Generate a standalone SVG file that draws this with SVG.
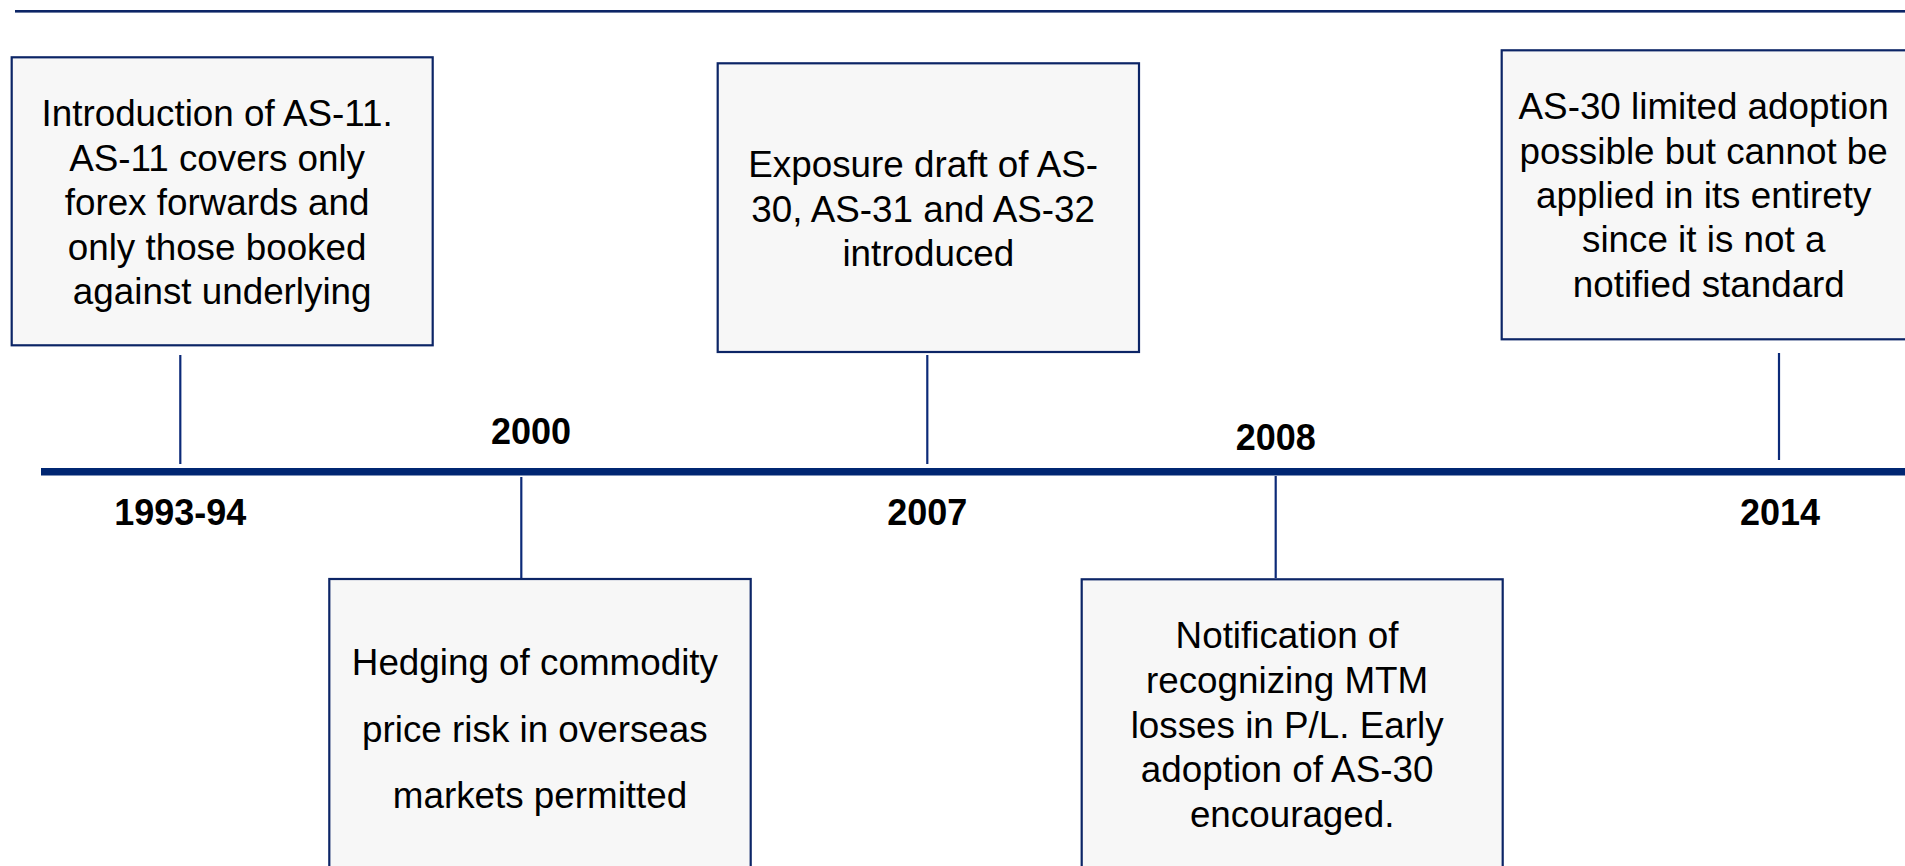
<svg xmlns="http://www.w3.org/2000/svg" width="1905" height="866" viewBox="0 0 1905 866">
  <style>
    .box { fill: #f7f7f7; stroke: #0c2566; stroke-width: 2.2; }
    .conn { stroke: #0c2a78; stroke-width: 2.2; fill: none; }
    .txt { font-family: "Liberation Sans", Arial, sans-serif; font-size: 36.8px; fill: #000; text-anchor: middle; }
    .year { font-family: "Liberation Sans", Arial, sans-serif; font-size: 36px; font-weight: bold; fill: #000; text-anchor: middle; }
  </style>
  <rect width="1905" height="866" fill="#ffffff"/>
  <g id="header-rule">
    <rect x="15" y="10" width="1890" height="2.6" fill="#0c2566"/>
  </g>
  <g id="timeline">
    <rect x="41" y="468" width="1864" height="7.5" fill="#002672"/>
  </g>
  <g id="connectors">
    <line class="conn" x1="180.3" y1="355" x2="180.3" y2="464"/>
    <line class="conn" x1="521.3" y1="477" x2="521.3" y2="578"/>
    <line class="conn" x1="927.3" y1="355" x2="927.3" y2="464"/>
    <line class="conn" x1="1275.7" y1="476" x2="1275.7" y2="578"/>
    <line class="conn" x1="1779" y1="353" x2="1779" y2="460"/>
  </g>
  <g id="node-1993">
    <rect class="box" x="11.7" y="57.3" width="421" height="288"/>
    <text class="txt">
      <tspan x="222.2" y="126">Introduction of AS-11.</tspan>
      <tspan x="222.2" y="170.5">AS-11 covers only</tspan>
      <tspan x="222.2" y="215">forex forwards and</tspan>
      <tspan x="222.2" y="259.5">only those booked</tspan>
      <tspan x="222.2" y="304">against underlying</tspan>
    </text>
    <text class="year" x="180.3" y="524.5">1993-94</text>
  </g>
  <g id="node-2000">
    <rect class="box" x="329.3" y="579" width="421.4" height="300"/>
    <text class="txt">
      <tspan x="540" y="675">Hedging of commodity</tspan>
      <tspan x="540" y="741.7">price risk in overseas</tspan>
      <tspan x="540" y="808.3">markets permitted</tspan>
    </text>
    <text class="year" x="531" y="444.3">2000</text>
  </g>
  <g id="node-2007">
    <rect class="box" x="717.7" y="63.3" width="421.3" height="288.7"/>
    <text class="txt">
      <tspan x="928.3" y="176.7">Exposure draft of AS-</tspan>
      <tspan x="928.3" y="221.5">30, AS-31 and AS-32</tspan>
      <tspan x="928.3" y="266">introduced</tspan>
    </text>
    <text class="year" x="927.3" y="524.5">2007</text>
  </g>
  <g id="node-2008">
    <rect class="box" x="1081.7" y="579.3" width="421" height="300"/>
    <text class="txt">
      <tspan x="1292.2" y="648.3">Notification of</tspan>
      <tspan x="1292.2" y="692.9">recognizing MTM</tspan>
      <tspan x="1292.2" y="737.5">losses in P/L. Early</tspan>
      <tspan x="1292.2" y="782.1">adoption of AS-30</tspan>
      <tspan x="1292.2" y="826.7">encouraged.</tspan>
    </text>
    <text class="year" x="1275.7" y="450">2008</text>
  </g>
  <g id="node-2014">
    <rect class="box" x="1501.7" y="50.3" width="414" height="289"/>
    <text class="txt">
      <tspan x="1708.8" y="119.3">AS-30 limited adoption</tspan>
      <tspan x="1708.8" y="163.6">possible but cannot be</tspan>
      <tspan x="1708.8" y="208">applied in its entirety</tspan>
      <tspan x="1708.8" y="252.3">since it is not a</tspan>
      <tspan x="1708.8" y="296.7">notified standard</tspan>
    </text>
    <text class="year" x="1780" y="524.5">2014</text>
  </g>
</svg>
